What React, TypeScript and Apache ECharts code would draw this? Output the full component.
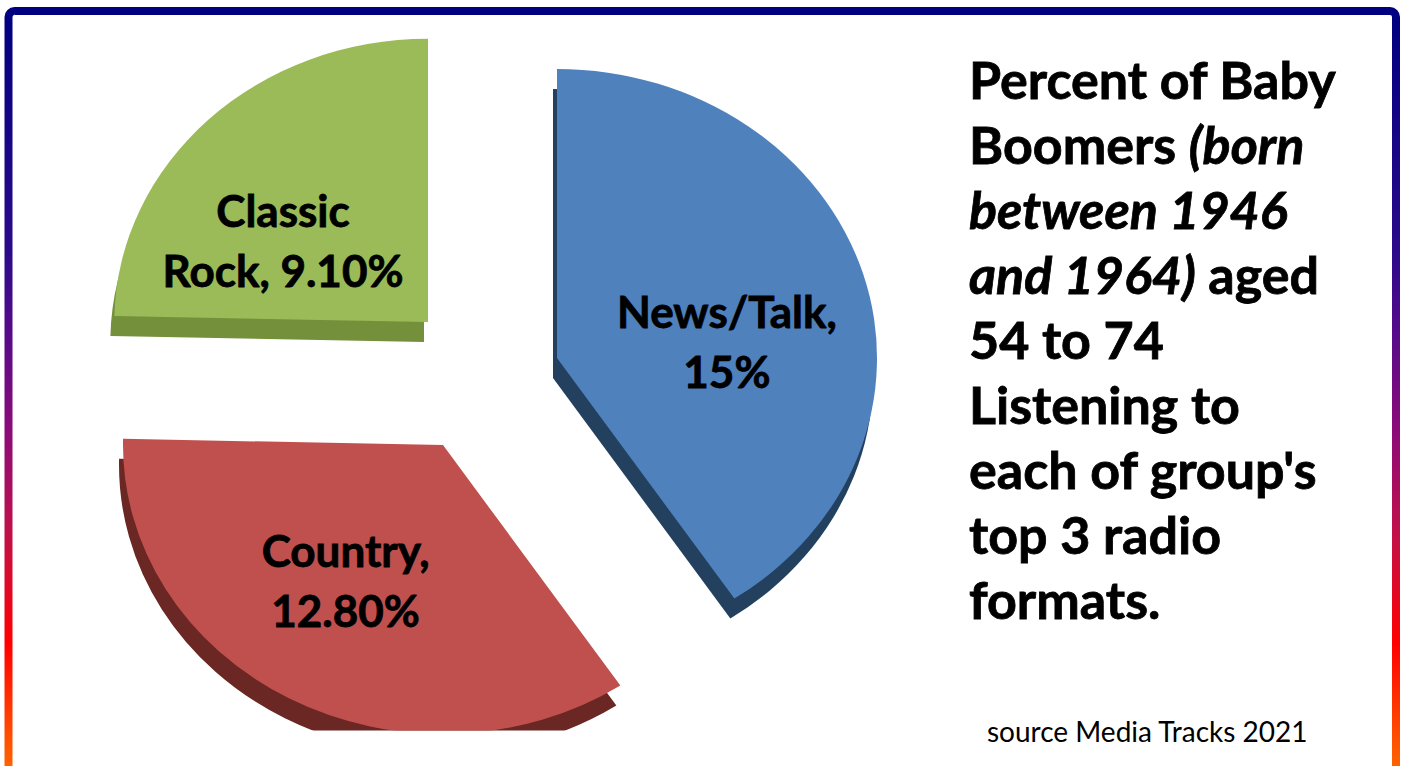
import React, { useEffect, useRef } from 'react';
import * as echarts from 'echarts';

// ---- data ----
const categories = ['News/Talk', 'Country', 'Classic Rock'];
const values = [15, 12.8, 9.1];
const labelTexts = ['News/Talk,\n15%', 'Country,\n12.80%', 'Classic\nRock, 9.10%'];
const faceColors = ['#4f81bd', '#c0504d', '#9bbb59'];
const sideColors = ['#23405f', '#6a2724', '#74903b'];
const titleLines = [
  '{b|Percent of Baby}',
  '{b|Boomers }{i|(born}',
  '{i|between 1946}',
  '{i|and 1964)}{b| aged}',
  '{b|54 to 74}',
  '{b|Listening to}',
  "{b|each of group's}",
  '{b|top 3 radio}',
  '{b|formats.}',
];
const sourceText = 'source Media Tracks 2021';

// ---- layout ----
// the 3-D pie is seen at a slight tilt: drawn as a circle, then squashed into an ellipse
const SX = 1.0561;
const SY = 0.9538;
// per-slice radius (perspective makes the far slice look a little smaller)
const radii = [303, 303, 297];
// screen position of each exploded slice's apex
const vertices: number[][] = [
  [557, 358],
  [443, 445],
  [428, 322],
];
const labelShift: number[][] = [
  [22, 28],
  [-23, 0],
  [-39, 26],
];
const SIDE_DX = -4;
const SIDE_DY = 20;

const labelFont = {
  color: '#000',
  fontFamily: 'Lato',
  fontWeight: 'bold',
  fontSize: 44,
  lineHeight: 60,
  align: 'center',
  textBorderColor: '#000',
  textBorderWidth: 0.8,
};

function faceSeries(idx: number, isSide: boolean): any {
  const [vx, vy] = vertices[idx];
  const cx = (vx + (isSide ? SIDE_DX : 0)) / SX;
  const cy = (vy + (isSide ? SIDE_DY : 0)) / SY;
  return {
    type: 'pie',
    name: categories[idx] + (isSide ? ' side' : ''),
    center: [cx, cy],
    radius: [0, radii[idx]],
    startAngle: 90,
    clockwise: true,
    avoidLabelOverlap: false,
    silent: true,
    z: isSide ? 1 : 2,
    emphasis: { disabled: true },
    label: { show: false },
    labelLine: { show: false },
    data: categories.map((name, j) => ({
      name,
      value: values[j],
      itemStyle: {
        color: j === idx ? (isSide ? sideColors[j] : faceColors[j]) : 'rgba(0,0,0,0)',
        borderWidth: 0,
      },
    })),
  };
}

function labelSeries(idx: number): any {
  const [vx, vy] = vertices[idx];
  return {
    type: 'pie',
    name: categories[idx] + ' label',
    center: [vx, vy],
    radius: [0, radii[idx]],
    startAngle: 90,
    clockwise: true,
    avoidLabelOverlap: false,
    silent: true,
    emphasis: { disabled: true },
    labelLine: { show: false },
    labelLayout: { dx: labelShift[idx][0], dy: labelShift[idx][1] },
    data: categories.map((name, j) => ({
      name,
      value: values[j],
      itemStyle: { color: 'rgba(0,0,0,0)', borderWidth: 0 },
      label: {
        show: j === idx,
        position: 'inside',
        formatter: labelTexts[j],
        ...labelFont,
      },
    })),
  };
}

export default function App() {
  const pieRef = useRef<HTMLDivElement>(null);
  const topRef = useRef<HTMLDivElement>(null);
  useEffect(() => {
    if (!pieRef.current || !topRef.current) return;
    const pie = echarts.init(pieRef.current, undefined, { renderer: 'svg' });
    const top = echarts.init(topRef.current, undefined, { renderer: 'svg' });

    const pieSeries: any[] = [];
    for (let i = 0; i < categories.length; i++) pieSeries.push(faceSeries(i, true));
    for (let i = 0; i < categories.length; i++) pieSeries.push(faceSeries(i, false));
    pie.setOption({ animation: false, series: pieSeries });

    const frameGradient = new echarts.graphic.LinearGradient(0, 0, 0, 1, [
      { offset: 0, color: '#000080' },
      { offset: 0.3, color: '#2a0a8a' },
      { offset: 0.4, color: '#550a8a' },
      { offset: 0.52, color: '#8a0a7a' },
      { offset: 0.65, color: '#c0104a' },
      { offset: 0.79, color: '#ff0000' },
      { offset: 0.91, color: '#ff5000' },
      { offset: 1, color: '#ff8000' },
    ]);

    const titleStyle = {
      fontFamily: 'Lato',
      fontWeight: 'bold',
      fontSize: 52,
      lineHeight: 65,
      fill: '#000',
      stroke: '#000',
      lineWidth: 0.8,
    };

    top.setOption({
      animation: false,
      series: categories.map((_, i) => labelSeries(i)),
      graphic: [
        {
          type: 'rect',
          z: 0,
          silent: true,
          shape: { x: 8.5, y: 11, width: 1387.5, height: 800, r: 6 },
          style: { fill: 'none', stroke: frameGradient, lineWidth: 8 },
        },
        {
          type: 'text',
          z: 10,
          silent: true,
          style: {
            x: 969,
            y: 46,
            text: titleLines.join('\n'),
            verticalAlign: 'top',
            align: 'left',
            rich: {
              b: { ...titleStyle },
              i: { ...titleStyle, fontStyle: 'italic' },
            },
          },
        },
        {
          type: 'text',
          z: 10,
          silent: true,
          style: {
            x: 987,
            y: 731,
            text: sourceText,
            verticalAlign: 'middle',
            align: 'left',
            fontFamily: 'Lato',
            fontSize: 28,
            fill: '#000',
          },
        },
      ],
    });
    return () => {
      pie.dispose();
      top.dispose();
    };
  }, []);
  return (
    <div
      style={{
        position: 'absolute',
        left: 0,
        top: 0,
        width: 1403,
        height: 766,
        overflow: 'hidden',
        background: '#ffffff',
      }}
    >
      <div
        ref={pieRef}
        style={{
          position: 'absolute',
          left: 0,
          top: 0,
          width: 1403,
          height: 766,
          transform: `scale(${SX}, ${SY})`,
          transformOrigin: '0 0',
        }}
      />
      <div
        ref={topRef}
        style={{ position: 'absolute', left: 0, top: 0, width: 1403, height: 766 }}
      />
    </div>
  );
}
